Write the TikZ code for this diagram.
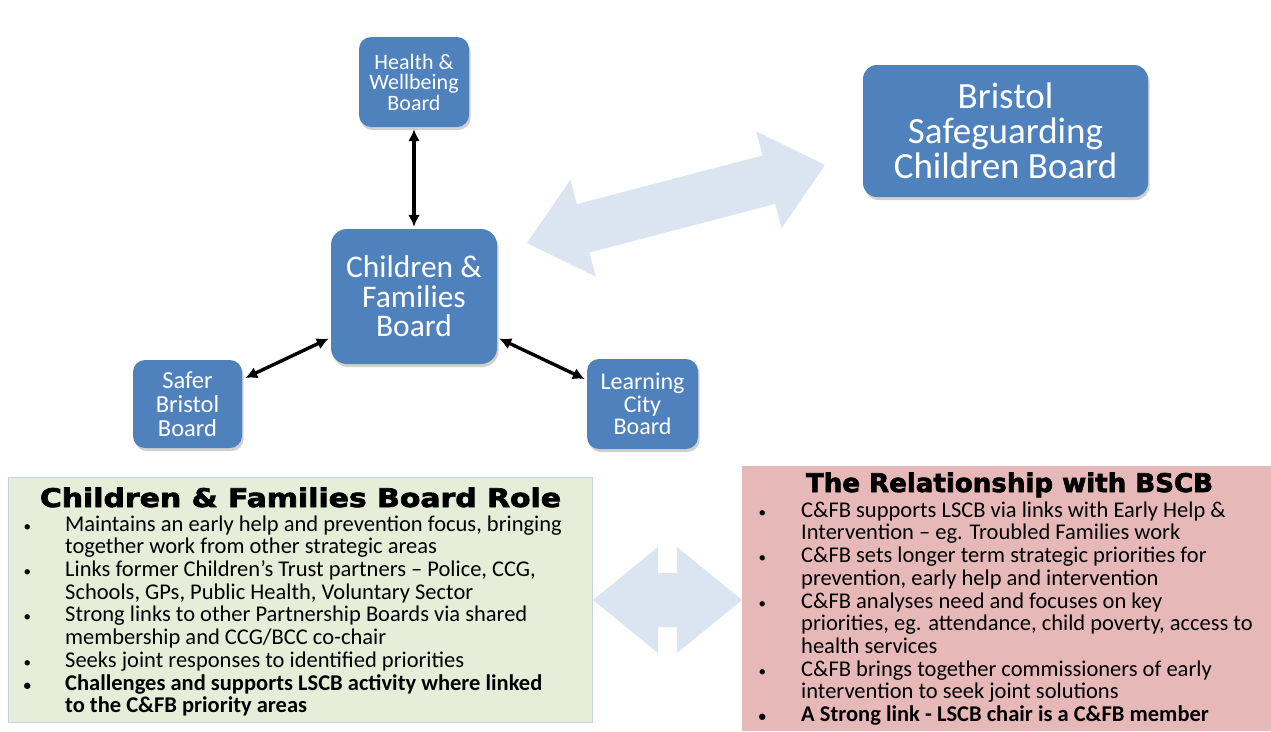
\documentclass[tikz,border=0pt]{standalone}
\usepackage{graphicx}
\usepackage{fontspec}
\setmainfont{Carlito}
\newfontfamily\heavyfont{DejaVu Sans}[BoldFeatures={FakeBold=2.5}]
\usetikzlibrary{arrows.meta,calc,shadows}
\definecolor{boxblue}{RGB}{79,129,189}
\definecolor{lightarrow}{RGB}{219,229,241}
\definecolor{greenfill}{RGB}{230,237,216}
\definecolor{greenedge}{RGB}{196,210,226}
\definecolor{redfill}{RGB}{230,185,184}
\newcommand{\bul}{{\fontsize{15}{15}\selectfont •}}
\tikzset{
  board/.style={fill=boxblue, text=white, align=center, inner sep=0pt,
    drop shadow={shadow xshift=1.5pt, shadow yshift=-3pt, opacity=0.3, fill=black!60}},
  conn/.style={line width=3.4pt, {Latex[length=12pt,width=12pt]}-{Latex[length=12pt,width=12pt]}},
  blockarrow/.style={fill=lightarrow, draw=none},
  listtext/.style={anchor=north west, inner sep=0pt, font=\fontsize{22.5}{22.7}\selectfont}
}
\begin{document}
\begin{tikzpicture}[x=1pt,y=-1pt]
\path[use as bounding box, fill=white] (0,0) rectangle (1271,731);

% big light double arrow between C&FB and BSCB
\fill[blockarrow] (527,243) -- (570.4,179.9) -- (576.8,204.1) -- (762.6,155.5) -- (756.2,131.3)
  -- (825,165) -- (781.6,228.1) -- (775.2,203.9) -- (589.4,252.5) -- (595.8,276.7) -- cycle;

% lower light double arrow between the two panels
\fill[blockarrow] (593,600) -- (658,547) -- (658,573) -- (677,573) -- (677,547) -- (742,600)
  -- (677,653) -- (677,627) -- (658,627) -- (658,653) -- cycle;

% boards
\node[board, rounded corners=12pt, minimum width=110pt, minimum height=90pt,
  font=\fontsize{22}{20.5}\selectfont] (hw) at (414,82) {Health \&\\Wellbeing\\Board};
\node[board, rounded corners=16pt, minimum width=166pt, minimum height=135pt,
  font=\fontsize{31.5}{29.5}\selectfont] (cfb) at (414,296.5) {Children \&\\Families\\Board};
\node[board, rounded corners=12pt, minimum width=109pt, minimum height=88pt,
  font=\fontsize{24.5}{24}\selectfont] (sb) at (187.5,404) {Safer\\Bristol\\Board};
\node[board, rounded corners=12pt, minimum width=111pt, minimum height=90pt,
  font=\fontsize{24}{22.5}\selectfont] (lc) at (642.5,404) {Learning\\City\\Board};
\node[board, rounded corners=14pt, minimum width=285pt, minimum height=132pt,
  font=\fontsize{37}{35}\selectfont] (bscb) at (1005.5,131) {Bristol\\Safeguarding\\Children Board};

% connectors
\draw[conn, shorten <=2pt, shorten >=2pt] (hw.south) -- (cfb.north);
\draw[conn] ($(sb.east)+(3,-26)$) -- ($(cfb.west)+(-2,42)$);
\draw[conn] ($(cfb.east)+(2,42)$) -- ($(lc.west)+(-2,-25)$);

% green panel
\node[draw=greenedge, line width=1.2pt, fill=greenfill, anchor=north west, inner sep=0pt,
  minimum width=584pt, minimum height=245pt] (gpanel) at (8,477) {};
\node[anchor=base, inner sep=0pt] (gtitle) at (300.5,507)
  {\resizebox{521pt}{19.5pt}{\heavyfont\bfseries Children \& Families Board Role}};
\node[listtext] (glist) at (23.5,515.1) {%
\begin{tabular}{@{}p{41.5pt}@{}l@{}}
\bul & Maintains an early help and prevention focus, bringing\\
  & together work from other strategic areas\\
\bul & Links former Children’s Trust partners – Police, CCG,\\
  & Schools, GPs, Public Health, Voluntary Sector\\
\bul & Strong links to other Partnership Boards via shared\\
  & membership and CCG/BCC co-chair\\
\bul & Seeks joint responses to identified priorities\\
\textbf{\bul} & \textbf{Challenges and supports LSCB activity where linked}\\
  & \textbf{to the C\&FB priority areas}
\end{tabular}};

% red panel
\node[fill=redfill, anchor=north west, inner sep=0pt,
  minimum width=529pt, minimum height=265pt] (rpanel) at (742,466) {};
\node[anchor=base, inner sep=0pt] (rtitle) at (1009.5,492)
  {\resizebox{407pt}{19.5pt}{\heavyfont\bfseries The Relationship with BSCB}};
\node[listtext] (rlist) at (758.5,501.2) {%
\begin{tabular}{@{}p{42.5pt}@{}l@{}}
\bul & C\&FB supports LSCB via links with Early Help \&\\
  & Intervention – eg. Troubled Families work\\
\bul & C\&FB sets longer term strategic priorities for\\
  & prevention, early help and intervention\\
\bul & C\&FB analyses need and focuses on key\\
  & priorities, eg. attendance, child poverty, access to\\
  & health services\\
\bul & C\&FB brings together commissioners of early\\
  & intervention to seek joint solutions\\
\textbf{\bul} & \textbf{A Strong link - LSCB chair is a C\&FB member}
\end{tabular}};
\end{tikzpicture}
\end{document}
